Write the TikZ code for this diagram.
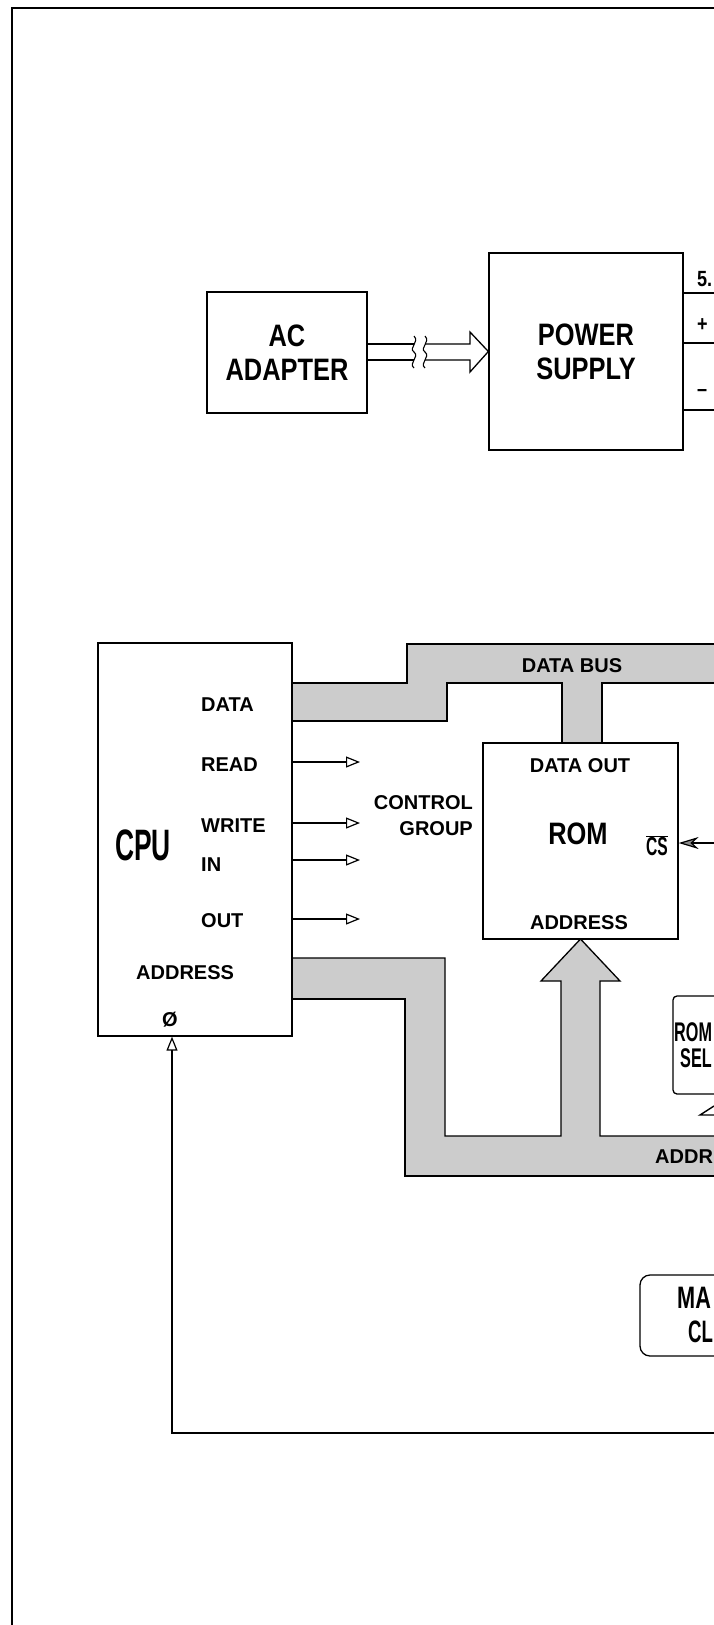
\documentclass[tikz,border=0pt]{standalone}
\usepackage{fontspec}
\setmainfont{Liberation Sans}
\newfontfamily\condfont[FakeStretch=0.82]{Liberation Sans}
\newfontfamily\narrowfont[FakeStretch=0.6]{Liberation Sans}
\newfontfamily\clockfont[FakeStretch=0.7]{Liberation Sans}
\usetikzlibrary{positioning}
\usetikzlibrary{arrows.meta}

\begin{document}
\begin{tikzpicture}[
    x=1pt, y=-1pt,
    block/.style={draw, line width=1.3pt, inner sep=0pt},
    title/.style={font=\condfont\bfseries\fontsize{31}{34}\selectfont, align=center, inner sep=0pt},
    pin/.style={font=\bfseries\fontsize{20}{26}\selectfont, inner sep=0pt},
    part/.style={font=\narrowfont\bfseries\fontsize{31}{34}\selectfont, inner sep=0pt, anchor=west},
    busline/.style={line width=1.3pt},
    busfill/.style={fill=black!20},
    ctrl/.style={-{Triangle[open, length=14pt, width=11pt]}, line width=1.2pt},
    csarrow/.style={-{Stealth[length=20pt, width=12pt, fill=black!45]}, line width=1.2pt}
]
\useasboundingbox (0,0) rectangle (714,1625);
\clip (0,0) rectangle (714,1625);

% frame
\draw[line width=1.4pt] (714,8) -- (12,8) -- (12,1625);

% power section
\node[block, title, minimum width=160, minimum height=121] (adapter) at (287,352.5) {AC\\ADAPTER};
\node[block, title, minimum width=194, minimum height=197] (psupply) at (586,351.5) {POWER\\SUPPLY};

% cable with break
\draw[busline] (adapter.east |- 0,344) -- (414,344);
\draw[busline] (adapter.east |- 0,360) -- (414,360);
\draw[busline] (425,344) -- (470,344) -- (470,332) -- (psupply.west) -- (470,372) -- (470,360) -- (425,360);
\draw[line width=1.1pt] (414,336) .. controls (420,342) and (408,348) .. (414,352) .. controls (420,357) and (408,363) .. (414,368);
\draw[line width=1.1pt] (425,336) .. controls (431,342) and (419,348) .. (425,352) .. controls (431,357) and (419,363) .. (425,368);

% supply outputs
\foreach \y/\txt/\ty in {293/5./279, 343/+/325, 410/\textendash/393} {
  \draw[busline] (psupply.east |- 0,\y) -- (714,\y);
  \node[font=\condfont\bfseries\fontsize{22}{24}\selectfont, inner sep=0pt, anchor=west] at (697,\ty) {\txt};
}

% data bus
\fill[busfill] (292,683) -- (407,683) -- (407,644) -- (714,644) -- (714,683) -- (602,683)
  -- (602,743) -- (562,743) -- (562,683) -- (447,683) -- (447,721) -- (292,721) -- cycle;
\draw[busline] (292,683) -- (407,683) -- (407,644) -- (714,644);
\draw[busline] (714,683) -- (602,683) -- (602,743);
\draw[busline] (562,743) -- (562,683) -- (447,683) -- (447,721) -- (292,721);
\node[pin] (databus) at (572,666) {DATA BUS};

% address bus
\fill[busfill] (292,958) -- (445,958) -- (445,1136) -- (561,1136) -- (561,981) -- (541,981)
  -- (580.5,939) -- (620,981) -- (600,981) -- (600,1136) -- (714,1136) -- (714,1176)
  -- (405,1176) -- (405,999) -- (292,999) -- cycle;
\draw[busline] (292,958) -- (445,958) -- (445,1136) -- (561,1136) -- (561,981) -- (541,981)
  -- (580.5,939) -- (620,981) -- (600,981) -- (600,1136) -- (714,1136);
\draw[busline] (714,1176) -- (405,1176) -- (405,999) -- (292,999);
\node[pin, anchor=west] (addrbus) at (655,1157) {ADDR};

% CPU
\node[block, minimum width=194, minimum height=393] (cpu) at (195,839.5) {};
\node[font=\narrowfont\bfseries\fontsize{44}{46}\selectfont, inner sep=0pt] (cpulbl) at (143,845) {CPU};
\foreach \name/\y in {DATA/705, READ/765, WRITE/826, IN/865, OUT/921}
  \node[pin, anchor=west] (pin\name) at (201,\y) {\name};
\node[pin, anchor=west] (pinaddr) at (136,973) {ADDRESS};
\node[pin] (pinclk) at (170,1020) {Ø};

% control group
\foreach \name/\y in {READ/762, WRITE/823, IN/860, OUT/919} {
  \coordinate (end\name) at (360,\y);
  \draw[ctrl] (cpu.east |- end\name) -- (end\name);
}
\node[pin, align=right, anchor=east] (ctrlgrp) at (473,816) {CONTROL\\GROUP};

% ROM
\node[block, minimum width=195, minimum height=196] (rom) at (580.5,841) {};
\node[pin] (romdata) at (580,766) {DATA OUT};
\node[font=\condfont\bfseries\fontsize{31}{34}\selectfont, inner sep=0pt] (romlbl) at (578,834) {ROM};
\node[pin] (romaddr) at (579,923) {ADDRESS};
\node[font=\narrowfont\bfseries\fontsize{26}{28}\selectfont, inner sep=0pt] (romcs) at (657,846) {$\overline{\hbox{CS}}$};
\coordinate (csin) at (714,843);
\draw[csarrow] (csin) -- (rom.east |- csin);

% ROM select
\node[block, rounded corners=4pt, minimum width=80, minimum height=98] (romsel) at (713,1045) {};
\node[part, font=\narrowfont\bfseries\fontsize{27}{30}\selectfont] (romseltop) at (674,1032) {ROM};
\node[part, font=\narrowfont\bfseries\fontsize{27}{30}\selectfont] (romselbot) at (680,1058) {SEL};
\draw[line width=1.4pt] (714,1106) -- (700,1115) -- (714,1115);

% clock
\node[block, rounded corners=10pt, minimum width=120, minimum height=81] (mclock) at (700,1315.5) {};
\node[part, font=\clockfont\bfseries\fontsize{31}{34}\selectfont] (mclocktop) at (677,1298) {MA};
\node[part] (mclockbot) at (688,1332) {CL};
\coordinate (clkin) at (714,1433);
\coordinate (clkbend) at (172,1433);
\draw[ctrl] (clkin) -- (clkbend) -- (cpu.south -| clkbend);

\end{tikzpicture}
\end{document}
